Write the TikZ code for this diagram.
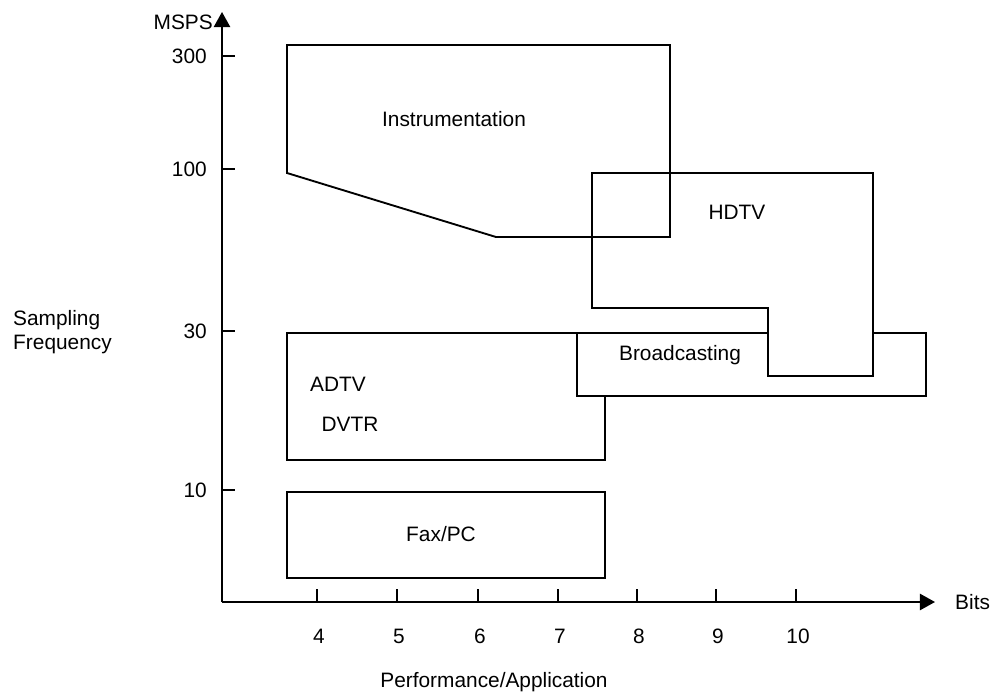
\documentclass[tikz,border=0pt]{standalone}
\usepackage{fontspec}
\setmainfont{Liberation Sans}
\usetikzlibrary{arrows.meta}

\tikzset{
	zone/.style={line width=1.6pt,line join=miter},
	axe/.style={line width=1.6pt,-{Triangle[length=13,width=14]}},
	graduation/.style={line width=1.6pt},
	etiquette/.style={inner sep=0pt,font=\fontsize{17.8}{21}\selectfont},
}

\begin{document}
\begin{tikzpicture}[x=0.03cm,y=-0.03cm]
		\useasboundingbox (0,0) rectangle (995,696);

		%zones : ordre du dessin = ordre de recouvrement
		\draw[zone] (287,492) rectangle (605,578);
		\draw[zone] (287,333) rectangle (605,460);
		\draw[zone,fill=white] (577,333) rectangle (926,396);
		\draw[zone,fill=white] (592,173) -- (873,173) -- (873,376) -- (768,376) -- (768,308) -- (592,308) -- cycle;
		\draw[zone] (287,45) -- (670,45) -- (670,237) -- (496,237) -- (287,173) -- cycle;

		%axes
		\coordinate (origine) at(222,602) ;
		\coordinate (haut) at(222,12) ;
		\coordinate (droite) at(935,602) ;
		\draw[axe] (origine) -- (haut);
		\draw[axe] (origine) -- (droite);

		%graduations verticales
		\foreach \val/\y in {300/56,100/169,30/331,10/490} {
			\draw[graduation] (222,\y) -- (235,\y);
			\node (y \val) at(207,\y) [etiquette,anchor=east] {\val} ;
		}
		%graduations horizontales
		\foreach \val/\x in {4/317,5/397,6/478,7/558,8/637,9/716,10/796} {
			\draw[graduation] (\x,602) -- (\x,589);
			\node (x \val) at(\x+2,636) [etiquette] {\val} ;
		}

		%noms des axes
		\node (msps) at(213,22) [etiquette,anchor=east] {MSPS} ;
		\node (bits) at(955,602) [etiquette,anchor=west] {Bits} ;
		\node (freq) at(13,332) [etiquette,anchor=west,align=left] {Sampling\\Frequency} ;
		\node (perf) at(494,682) [etiquette] {Performance/Application} ;

		%textes des zones
		\node (instru) at(454,119) [etiquette] {Instrumentation} ;
		\node (hdtv) at(737,212) [etiquette] {HDTV} ;
		\node (broad) at(680,355) [etiquette] {Broadcasting} ;
		\node (adtv) at(338,384) [etiquette] {ADTV} ;
		\node (dvtr) at(350,424) [etiquette] {DVTR} ;
		\node (fax) at(441,534) [etiquette] {Fax/PC} ;
\end{tikzpicture}
\end{document}
